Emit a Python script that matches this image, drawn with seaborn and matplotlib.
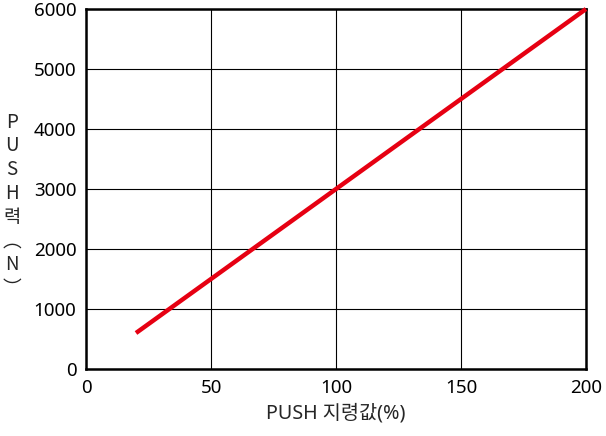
import matplotlib
matplotlib.use('Agg')
import matplotlib.pyplot as plt
import seaborn as sns
import pandas as pd

# data
command_pct = [20, 200]
push_force = [600, 6000]
x_ticks = [0, 50, 100, 150, 200]
y_ticks = [0, 1000, 2000, 3000, 4000, 5000, 6000]

sns.set_style('white')
plt.rcParams['font.family'] = ['Noto Sans', 'Noto Sans CJK KR', 'DejaVu Sans']

df = pd.DataFrame({'cmd': command_pct, 'force': push_force})

fig = plt.figure(figsize=(6.06, 4.36), dpi=100)
ax = fig.add_axes([86/606, 67/436, 500/606, 360/436])

sns.lineplot(data=df, x='cmd', y='force', ax=ax, color='#e60012', linewidth=3.2,
             solid_capstyle='butt', zorder=3, clip_on=False)

ax.set_xlim(0, 200)
ax.set_ylim(0, 6000)
ax.set_xticks(x_ticks)
ax.set_yticks(y_ticks)
ax.grid(True, color='black', linewidth=0.8)
ax.set_axisbelow(True)
for side in ['top', 'right', 'left', 'bottom']:
    ax.spines[side].set_color('black')
    ax.spines[side].set_linewidth(1.8)
ax.tick_params(axis='both', length=0, labelsize=13.5, colors='black', pad=7)

ax.set_xlabel('PUSH 지령값(%)', fontsize=14.2, labelpad=5)
ax.set_ylabel('P\nU\nS\nH\n력\n︵\nN\n︶', fontsize=13.5, rotation=0,
              linespacing=1.17, va='center', ha='center',
              family=['Noto Sans CJK KR', 'DejaVu Sans'])
ax.yaxis.set_label_coords(-0.148, 0.455)

plt.savefig('out.png', dpi=100)
